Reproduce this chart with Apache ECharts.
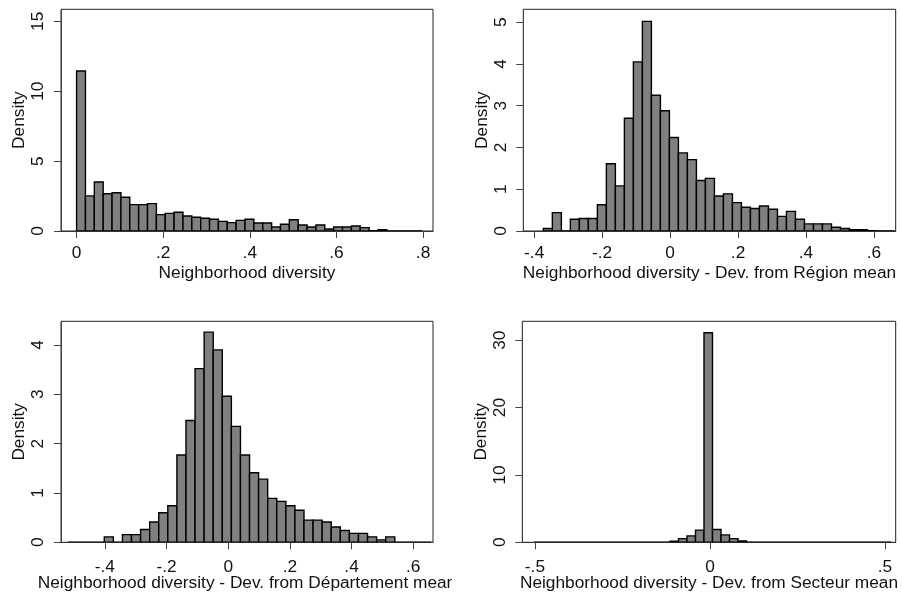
<!DOCTYPE html>
<html><head><meta charset="utf-8">
<script src="https://cdn.jsdelivr.net/npm/echarts@6/dist/echarts.min.js"></script>
<style>
html,body{margin:0;padding:0;background:#fff;}
body{width:902px;height:594px;position:relative;overflow:hidden;}
.p{position:absolute;}
</style></head><body>
<div id="c1" class="p" style="left:0;top:0;width:452px;height:297px;"></div>
<div id="c2" class="p" style="left:451px;top:0;width:451px;height:297px;"></div>
<div id="c3" class="p" style="left:0;top:297px;width:452px;height:297px;"></div>
<div id="c4" class="p" style="left:451px;top:297px;width:451px;height:297px;"></div>
<script>
// ---- Panel 1: Neighborhood diversity ----
const p1Title = 'Neighborhood diversity';
const p1BinStart = 0;
const p1BinWidth = 0.02047;
const p1Density = [11.45,2.51,3.51,2.67,2.74,2.41,1.89,1.89,1.96,1.17,1.26,1.34,1.07,0.98,0.91,0.84,0.69,0.60,0.76,0.84,
                   0.57,0.57,0.29,0.48,0.81,0.43,0.29,0.43,0.14,0.29,0.29,0.36,0.24,0.03,0.10,0,0,0,0];
const p1XTicks = [0,0.2,0.4,0.6,0.8];
const p1YTicks = [0,5,10,15];

// ---- Panel 2: Dev. from Région mean ----
const p2Title = 'Neighborhood diversity - Dev. from Région mean';
const p2BinStart = -0.373;
const p2BinWidth = 0.0265;
const p2Density = [0.06,0.44,0,0.28,0.30,0.30,0.63,1.61,1.08,2.70,4.05,5.02,3.25,2.88,2.24,1.87,1.71,1.21,1.26,0.84,
                   0.89,0.68,0.57,0.54,0.60,0.52,0.35,0.47,0.28,0.17,0.17,0.17,0.09,0.06,0.03,0.03,0.01,0,0];
const p2XTicks = [-0.4,-0.2,0,0.2,0.4,0.6];
const p2YTicks = [0,1,2,3,4,5];

// ---- Panel 3: Dev. from Département mean ----
const p3Title = 'Neighborhood diversity - Dev. from Département mean';
const p3BinStart = -0.5194;
const p3BinWidth = 0.02943;
const p3Density = [0,0,0,0,0.11,0,0.155,0.155,0.26,0.41,0.60,0.74,1.77,2.47,3.52,4.26,3.90,2.96,2.35,1.77,
                   1.41,1.28,0.89,0.83,0.74,0.65,0.45,0.45,0.41,0.31,0.24,0.18,0.18,0.11,0.05,0.11,0,0,0,0];
const p3XTicks = [-0.4,-0.2,0,0.2,0.4,0.6];
const p3YTicks = [0,1,2,3,4];

// ---- Panel 4: Dev. from Secteur mean ----
const p4Title = 'Neighborhood diversity - Dev. from Secteur mean';
const p4BinStart = -0.503;
const p4BinWidth = 0.0243;
const p4Density = [0,0,0,0,0,0,0,0,0,0,0,0,0,0,0,0,
                   0.15,0.55,0.95,1.8,31.1,1.9,1.1,0.55,0.2,
                   0,0,0,0,0,0,0,0,0,0,0,0,0,0,0,0,0];
const p4XTicks = [-0.5,0,0.5];
const p4YTicks = [0,10,20,30];

const FONT = 'Liberation Sans, Arial, sans-serif';
const TXT = '#111';
const FS = 17.3;

function fmt(v){
  let s = String(+(+v).toFixed(3));
  return s.replace(/^0\./,'.').replace(/^-0\./,'-.');
}

function toBins(start, width, dens){
  return dens.map((d,i)=>[start+i*width, start+(i+1)*width, d]);
}

function renderBar(params, api){
  const x0 = api.value(0), x1 = api.value(1), y = api.value(2);
  const a = api.coord([x0, y]);
  const b = api.coord([x1, 0]);
  return {
    type:'rect',
    shape:{x:a[0], y:a[1], width:b[0]-a[0], height:b[1]-a[1]},
    style:{fill:'#808080', stroke:'#000', lineWidth:1.4}
  };
}

function makeChart(id, cfg){
  const chart = echarts.init(document.getElementById(id), null, {renderer:'canvas'});
  chart.setOption({
    animation:false,
    backgroundColor:'transparent',
    grid:{left:cfg.left, top:cfg.top, width:cfg.width, height:cfg.height,
          containLabel:false, outerBoundsMode:'none',
          show:true, borderColor:'#222', borderWidth:1, backgroundColor:'transparent'},
    xAxis:{
      type:'value', min:cfg.xmin, max:cfg.xmax,
      name:cfg.title, nameLocation:'middle', nameGap:cfg.xNameGap, nameMoveOverlap:false,
      nameTextStyle:{fontFamily:FONT, fontSize:FS, color:TXT},
      axisLine:{show:true, onZero:false, lineStyle:{color:'#333', width:1}},
      axisTick:{show:true, length:7, customValues:cfg.xticks, lineStyle:{color:'#444', width:1}},
      axisLabel:{customValues:cfg.xticks, formatter:fmt, fontFamily:FONT, fontSize:FS, color:TXT, margin:cfg.xLabelMargin},
      splitLine:{show:false}
    },
    yAxis:{
      type:'value', min:0, max:cfg.ymax,
      name:'Density', nameLocation:'middle', nameGap:cfg.yNameGap, nameMoveOverlap:false,
      nameTextStyle:{fontFamily:FONT, fontSize:FS, color:TXT},
      axisLine:{show:true, onZero:false, lineStyle:{color:'#444', width:1}},
      axisTick:{show:true, length:7, customValues:cfg.yticks, lineStyle:{color:'#444', width:1}},
      axisLabel:{customValues:cfg.yticks, formatter:fmt, rotate:90, fontFamily:FONT, fontSize:FS, color:TXT, margin:cfg.yLabelMargin},
      splitLine:{show:false}
    },
    series:[{
      type:'custom', renderItem:renderBar, clip:true,
      encode:{x:[0,1], y:2},
      data:toBins(cfg.binStart, cfg.binWidth, cfg.dens)
    }]
  });
}

makeChart('c1', {left:61, top:9.3, width:372, height:221.7, xmin:-0.036, xmax:0.823, ymax:15.86,
  title:p1Title, xticks:p1XTicks, yticks:p1YTicks, binStart:p1BinStart, binWidth:p1BinWidth, dens:p1Density,
  xNameGap:34, xLabelMargin:14, yNameGap:33, yLabelMargin:14});
makeChart('c2', {left:72.3, top:9.3, width:372.4, height:221.7, xmin:-0.432, xmax:0.664, ymax:5.31,
  title:p2Title, xticks:p2XTicks, yticks:p2YTicks, binStart:p2BinStart, binWidth:p2BinWidth, dens:p2Density,
  xNameGap:34, xLabelMargin:14, yNameGap:33, yLabelMargin:14});
makeChart('c3', {left:61, top:24.3, width:372, height:221, xmin:-0.542, xmax:0.664, ymax:4.48,
  title:p3Title, xticks:p3XTicks, yticks:p3YTicks, binStart:p3BinStart, binWidth:p3BinWidth, dens:p3Density,
  xNameGap:32, xLabelMargin:16, yNameGap:33, yLabelMargin:14});
makeChart('c4', {left:71.3, top:24.3, width:373.4, height:221, xmin:-0.536, xmax:0.5306, ymax:32.8,
  title:p4Title, xticks:p4XTicks, yticks:p4YTicks, binStart:p4BinStart, binWidth:p4BinWidth, dens:p4Density,
  xNameGap:32, xLabelMargin:16, yNameGap:33, yLabelMargin:14});
</script>
</body></html>
